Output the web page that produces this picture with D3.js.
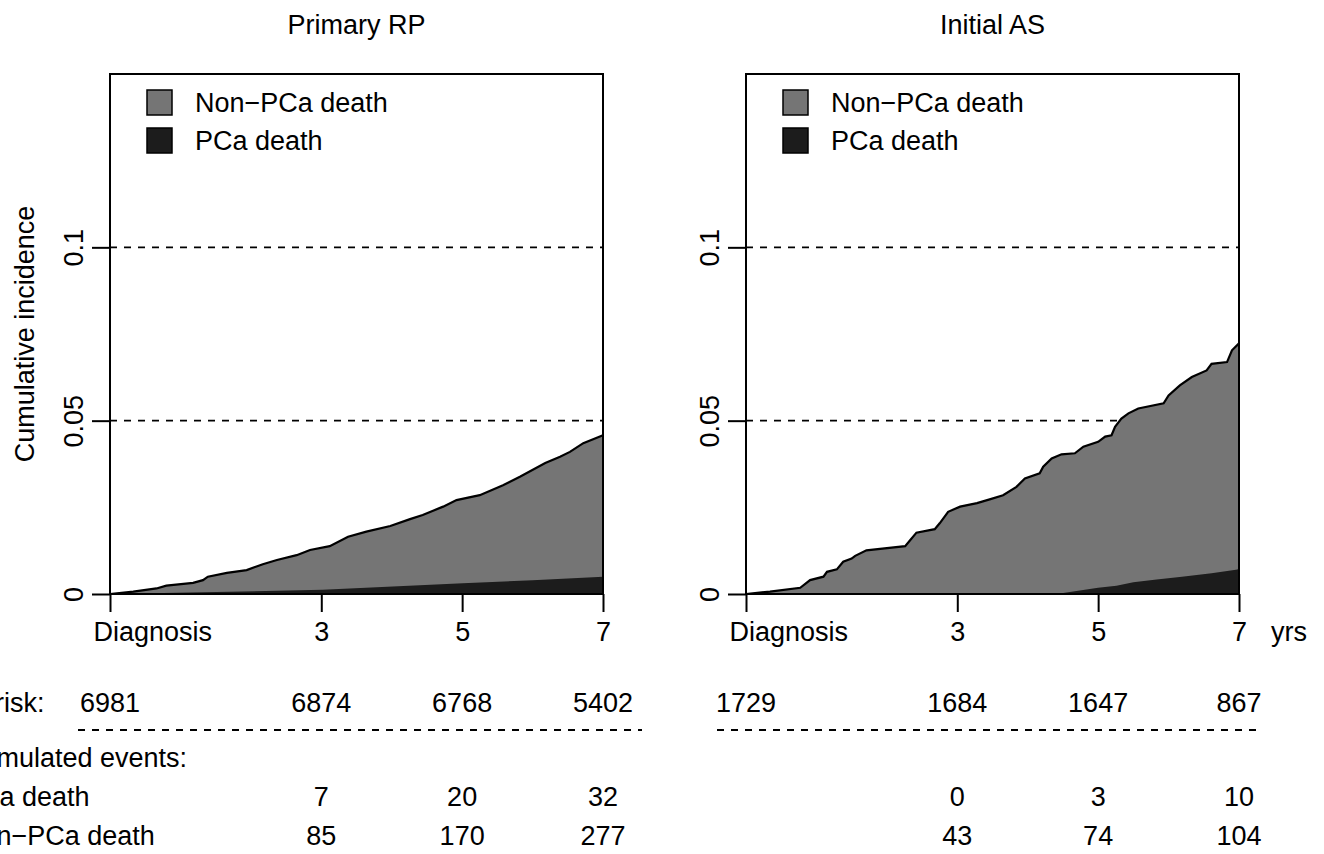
<!DOCTYPE html>
<html>
<head>
<meta charset="utf-8">
<script src="https://cdn.jsdelivr.net/npm/d3@7/dist/d3.min.js"></script>
<style>
  body { margin: 0; background: #fff; }
  svg { display: block; font-family: "Liberation Sans", Arial, sans-serif; }
</style>
</head>
<body>
<svg id="chart" width="1324" height="854"></svg>
<script>
// time points of the x axis and the risk table
var years = [0, 3, 5, 7],
    tickLabels = ["Diagnosis", "3", "5", "7"],
    yTicks = [0, 0.05, 0.1],
    yTickLabels = ["0", "0.05", "0.1"],
    seriesNames = ["Non\u2212PCa death", "PCa death"],
    rowLabels = ["At risk:", "Cumulated events:", "PCa death", "Non\u2212PCa death"];

// Primary RP: [years, cumulative incidence]
var rpTotal = [[0, 0], [0.33, 0.0007], [0.66, 0.0016], [0.80, 0.0024], [1.18, 0.0032],
      [1.32, 0.0040], [1.39, 0.0050], [1.66, 0.0061], [1.94, 0.0069], [2.17, 0.0086],
      [2.37, 0.0098], [2.65, 0.0112], [2.84, 0.0127], [3.12, 0.0138], [3.38, 0.0165],
      [3.64, 0.0180], [3.98, 0.0196], [4.26, 0.0216], [4.44, 0.0228], [4.73, 0.0252],
      [4.92, 0.0271], [5.25, 0.0285], [5.58, 0.0314], [5.82, 0.0338], [6.18, 0.0378],
      [6.39, 0.0396], [6.53, 0.0410], [6.72, 0.0435], [7, 0.0458]],
    rpPca = [[0, 0], [1.14, 0.0004], [3.02, 0.0012], [5.01, 0.0031], [6.0, 0.0040], [7, 0.0050]];

// Initial AS
var asTotal = [[0, 0], [0.34, 0.0007], [0.77, 0.0018], [0.91, 0.0040], [1.10, 0.0050],
      [1.15, 0.0064], [1.29, 0.0071], [1.38, 0.0093], [1.50, 0.0102], [1.55, 0.0110],
      [1.71, 0.0126], [2.26, 0.0138], [2.33, 0.0155], [2.42, 0.0177], [2.68, 0.0187],
      [2.75, 0.0204], [2.87, 0.0237], [3.04, 0.0252], [3.28, 0.0262], [3.46, 0.0273],
      [3.65, 0.0285], [3.84, 0.0309], [3.96, 0.0333], [4.17, 0.0348], [4.22, 0.0367],
      [4.34, 0.0391], [4.48, 0.0403], [4.67, 0.0406], [4.79, 0.0425], [5.00, 0.0439],
      [5.10, 0.0454], [5.19, 0.0458], [5.24, 0.0482], [5.33, 0.0506], [5.43, 0.0521],
      [5.57, 0.0535], [5.93, 0.0550], [6.00, 0.0573], [6.16, 0.0602], [6.33, 0.0626],
      [6.54, 0.0645], [6.61, 0.0664], [6.83, 0.0669], [6.90, 0.0703], [7, 0.0723]],
    asPca = [[0, 0], [4.41, 0], [4.74, 0.0010], [5.0, 0.0018], [5.26, 0.0024], [5.5, 0.0034],
      [5.83, 0.0042], [6.19, 0.0050], [6.61, 0.0060], [6.98, 0.0071], [7, 0.0078]];

var rpAtRisk = [6981, 6874, 6768, 5402],
    rpPcaEvents = ["", 7, 20, 32],
    rpNonPcaEvents = ["", 85, 170, 277],
    asAtRisk = [1729, 1684, 1647, 867],
    asPcaEvents = ["", 0, 3, 10],
    asNonPcaEvents = ["", 43, 74, 104];

var GREY = "#757575",
    DARK = "#1c1c1c",
    FONT = 27,
    TOP = 74,
    BOTTOM = 594;

var panels = [
  { title: "Primary RP", left: 110, total: rpTotal, pca: rpPca,
    rows: [rpAtRisk, rpPcaEvents, rpNonPcaEvents], dash: [78, 642], labels: true },
  { title: "Initial AS", left: 746, total: asTotal, pca: asPca,
    rows: [asAtRisk, asPcaEvents, asNonPcaEvents], dash: [717, 1262], labels: false }
];

var svg = d3.select("#chart"),
    y = d3.scaleLinear().domain([0, 0.15]).range([BOTTOM, TOP]);

function legend(g, x0) {
  seriesNames.forEach(function (name, i) {
    g.append("rect").attr("x", x0).attr("y", 90 + i * 38).attr("width", 25).attr("height", 25)
      .attr("fill", i === 0 ? GREY : DARK).attr("stroke", "#000").attr("stroke-width", 1.5);
    g.append("text").attr("x", x0 + 48).attr("y", 112 + i * 38)
      .style("font-size", FONT + "px").text(name);
  });
}

panels.forEach(function (p) {
  var x = d3.scaleLinear().domain([0, 7]).range([p.left, p.left + 493]),
      g = svg.append("g"),
      area = d3.area().x(function (d) { return x(d[0]); }).y0(y(0)).y1(function (d) { return y(d[1]); }),
      line = d3.line().x(function (d) { return x(d[0]); }).y(function (d) { return y(d[1]); });

  // title
  g.append("text").attr("x", (x(0) + x(7)) / 2).attr("y", 34)
    .attr("text-anchor", "middle").style("font-size", FONT + "px").text(p.title);

  // reference lines
  g.selectAll("line.ref").data([0.05, 0.1]).enter().append("line")
    .attr("x1", x(0)).attr("x2", x(7))
    .attr("y1", function (d) { return y(d); }).attr("y2", function (d) { return y(d); })
    .attr("stroke", "#000").attr("stroke-width", 1.8).attr("stroke-dasharray", "7,7");

  // stacked areas: total first, PCa death over it
  g.append("path").datum(p.total).attr("d", area).attr("fill", GREY);
  g.append("path").datum(p.pca).attr("d", area).attr("fill", DARK);
  g.append("path").datum(p.total).attr("d", line)
    .attr("fill", "none").attr("stroke", "#000").attr("stroke-width", 2.2);

  // box
  g.append("rect").attr("x", x(0)).attr("y", TOP)
    .attr("width", x(7) - x(0)).attr("height", BOTTOM - TOP)
    .attr("fill", "none").attr("stroke", "#000").attr("stroke-width", 2);

  // x axis
  var xAxis = g.append("g").attr("transform", "translate(0," + BOTTOM + ")")
    .call(d3.axisBottom(x).tickValues(years).tickSize(18)
      .tickFormat(function (d, i) { return tickLabels[i]; }));
  xAxis.select(".domain").remove();
  xAxis.selectAll(".tick line").attr("stroke-width", 2);
  xAxis.selectAll(".tick text").attr("dy", null).attr("y", 47)
    .style("font-size", FONT + "px").attr("font-family", null)
    .attr("text-anchor", function (d) { return d === 0 ? "start" : "middle"; })
    .attr("x", function (d) { return d === 0 ? -17 : 0; });

  // y axis
  var yAxis = g.append("g").attr("transform", "translate(" + x(0) + ",0)")
    .call(d3.axisLeft(y).tickValues(yTicks).tickSize(18)
      .tickFormat(function (d, i) { return yTickLabels[i]; }));
  yAxis.select(".domain").remove();
  yAxis.selectAll(".tick line").attr("stroke-width", 2);
  yAxis.selectAll(".tick text").attr("x", null).attr("dy", null)
    .attr("font-family", null).style("font-size", FONT + "px")
    .attr("text-anchor", "middle").attr("transform", "translate(-27,0) rotate(-90)");

  // risk table
  var rowY = [712, 806, 845];
  p.rows.forEach(function (row, ri) {
    g.selectAll("text.r" + ri).data(row).enter().append("text")
      .attr("x", function (d, i) { return x(years[i]); }).attr("y", rowY[ri])
      .attr("text-anchor", "middle").style("font-size", FONT + "px")
      .text(function (d) { return d; });
  });
  g.append("line").attr("x1", p.dash[0]).attr("x2", p.dash[1]).attr("y1", 730).attr("y2", 730)
    .attr("stroke", "#000").attr("stroke-width", 1.8).attr("stroke-dasharray", "7,7");

  legend(g, p.left + 37);

  if (p.labels) {
    // row labels run off the left edge, as in the original
    g.selectAll("text.rowlab").data(rowLabels).enter().append("text")
      .attr("x", -38).attr("y", function (d, i) { return [712, 767, 806, 845][i]; })
      .style("font-size", FONT + "px").text(function (d) { return d; });
    g.append("text").attr("transform", "translate(34," + ((TOP + BOTTOM) / 2) + ") rotate(-90)")
      .attr("text-anchor", "middle").style("font-size", FONT + "px").text("Cumulative incidence");
  } else {
    g.append("text").attr("x", 1271).attr("y", 641).style("font-size", FONT + "px").text("yrs");
  }
});
</script>
</body>
</html>
